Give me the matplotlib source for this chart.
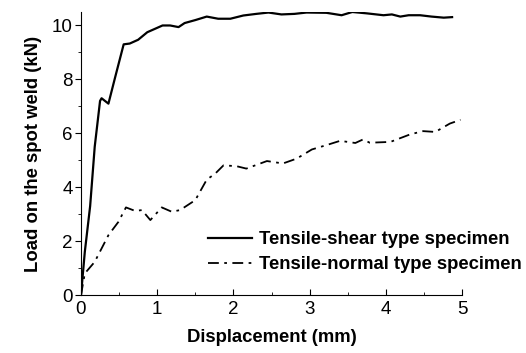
import matplotlib.pyplot as plt
from matplotlib.ticker import MultipleLocator

# tensile-shear specimen (solid)
shear_x = [0.0, 0.05, 0.12, 0.18, 0.25, 0.27, 0.36, 0.45, 0.56, 0.64, 0.75, 0.87,
           1.07, 1.17, 1.28, 1.36, 1.50, 1.65, 1.80, 1.96, 2.13, 2.30, 2.46, 2.63,
           2.80, 2.96, 3.22, 3.42, 3.56, 3.75, 3.97, 4.08, 4.19, 4.30, 4.45, 4.60,
           4.76, 4.87]
shear_y = [0.0, 1.6, 3.3, 5.5, 7.2, 7.3, 7.1, 8.1, 9.3, 9.33, 9.47, 9.75,
           10.0, 10.0, 9.94, 10.09, 10.2, 10.33, 10.25, 10.25, 10.37, 10.43, 10.48, 10.41,
           10.43, 10.48, 10.47, 10.38, 10.5, 10.45, 10.38, 10.41, 10.33, 10.38, 10.38, 10.33,
           10.29, 10.31]

# tensile-normal specimen (dash-dot)
normal_x = [0.0, 0.05, 0.18, 0.36, 0.49, 0.59, 0.71, 0.80, 0.91, 1.06, 1.19, 1.30,
            1.50, 1.65, 1.76, 1.87, 2.04, 2.17, 2.44, 2.65, 2.83, 3.03, 3.22, 3.40,
            3.60, 3.70, 3.79, 4.06, 4.32, 4.49, 4.65, 4.84, 4.98]
normal_y = [0.0, 0.8, 1.23, 2.22, 2.71, 3.25, 3.12, 3.15, 2.78, 3.25, 3.09, 3.15,
            3.52, 4.28, 4.5, 4.81, 4.78, 4.69, 4.97, 4.88, 5.06, 5.4, 5.56, 5.72,
            5.64, 5.77, 5.65, 5.68, 5.96, 6.08, 6.05, 6.36, 6.5]

plt.rcParams['font.family'] = 'Liberation Sans'

fig = plt.figure(figsize=(5.26, 3.53), dpi=100)
ax = fig.add_axes([81 / 526, 1 - 295 / 353, 381 / 526, 283 / 353])

ax.plot(shear_x, shear_y, color='black', lw=1.6, label='Tensile-shear type specimen')
ax.plot(normal_x, normal_y, color='black', lw=1.3, linestyle=(0, (6, 3, 1.5, 3)),
        label='Tensile-normal type specimen')

ax.set_xlim(0, 5)
ax.set_ylim(0, 10.5)
ax.xaxis.set_major_locator(MultipleLocator(1))
ax.xaxis.set_minor_locator(MultipleLocator(0.5))
ax.yaxis.set_major_locator(MultipleLocator(2))
ax.yaxis.set_minor_locator(MultipleLocator(1))
ax.tick_params(axis='x', which='both', direction='in', labelsize=13.5, pad=4)
ax.tick_params(axis='y', which='both', direction='out', labelsize=13.5, pad=2)
ax.tick_params(which='major', length=4)
ax.tick_params(which='minor', length=2.5)

for side in ['top', 'right']:
    ax.spines[side].set_visible(False)

ax.set_xlabel('Displacement (mm)', fontsize=13.3, fontweight='bold', labelpad=8)
ax.set_ylabel('Load on the spot weld (kN)', fontsize=13.3, fontweight='bold', labelpad=7)

ax.legend(loc='upper left', bbox_to_anchor=((208 - 81) / 381, 0.226), frameon=False,
          prop={'weight': 'bold', 'size': 13.3}, handlelength=2.4,
          handletextpad=0.35, labelspacing=0.45, borderpad=0, borderaxespad=0)

fig.savefig('out.png')
